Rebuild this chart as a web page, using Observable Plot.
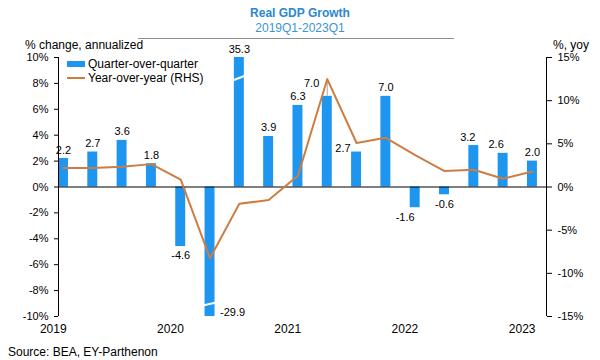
<!DOCTYPE html>
<html><head><meta charset="utf-8">
<script src="https://cdn.jsdelivr.net/npm/d3@7"></script>
<script src="https://cdn.jsdelivr.net/npm/@observablehq/plot@0.6"></script>
<style>
body{margin:0;background:#fff;font-family:"Liberation Sans",Arial,sans-serif;}
#wrap{position:relative;width:600px;height:360px;overflow:hidden;background:#fff;}
#chart{position:absolute;left:0;top:0;}
.t{position:absolute;white-space:nowrap;line-height:12px;font-size:12px;color:#000;}
</style></head><body><div id="wrap">
<div id="chart"></div>
<div class="t" style="left:0;width:600px;text-align:center;top:7px;font-weight:bold;color:#2c87cf">Real GDP Growth</div>
<div class="t" style="left:0;width:600px;text-align:center;top:22px;color:#3a94d6">2019Q1-2023Q1</div>
<div style="position:absolute;left:138px;top:38px;width:316px;height:1px;background:#8f8f8f"></div>
<div class="t" style="left:25px;top:39px">% change, annualized</div>
<div class="t" style="left:553px;top:39px">%, yoy</div>
<div style="position:absolute;left:67px;top:61px;width:18px;height:6px;background:#1e95ef"></div>
<div class="t" style="left:88px;top:58px">Quarter-over-quarter</div>
<div style="position:absolute;left:67px;top:77px;width:18px;height:2px;background:#cd7d41"></div>
<div class="t" style="left:88px;top:72px">Year-over-year (RHS)</div>
<div class="t" style="left:8px;top:346px">Source: BEA, EY-Parthenon</div>
</div>
<script>
// ---- data ----
const quarters = ["2019Q1","2019Q2","2019Q3","2019Q4","2020Q1","2020Q2","2020Q3","2020Q4",
  "2021Q1","2021Q2","2021Q3","2021Q4","2022Q1","2022Q2","2022Q3","2022Q4","2023Q1"];
const qoq = [2.2, 2.7, 3.6, 1.8, -4.6, -29.9, 35.3, 3.9, 6.3, 7.0, 2.7, 7.0, -1.6, -0.6, 3.2, 2.6, 2.0];
const yoy = [2.2, 2.2, 2.35, 2.65, 0.85, -8.25, -1.95, -1.5, 1.3, 12.5, 5.1, 5.7, 3.7, 1.85, 2.0, 0.95, 1.8];
const years = [2019, 2020, 2021, 2022, 2023];
const leftTicks = [-10, -8, -6, -4, -2, 0, 2, 4, 6, 8, 10];
const rightTicks = [-15, -10, -5, 0, 5, 10, 15];

// ---- build ----
const data = quarters.map((q, i) => ({q, i, qoq: qoq[i], yoy: yoy[i]}));
const R = 10 / 15; // right-axis to left-axis ratio
const xDom = [-0.17, 16.48];
const yearPos = years.map((y, k) => k * 4 - 0.35);
const blue = "#1e95ef", orange = "#cd7d41";
const fmt = d => d.qoq.toFixed(1);
const special = new Set([5, 9, 10, 12, 14, 15]);

const chart = Plot.plot({
  width: 600, height: 360,
  marginTop: 57, marginBottom: 44, marginLeft: 58, marginRight: 54,
  x: {type: "linear", domain: xDom},
  y: {domain: [-10, 10], clamp: true},
  style: {fontFamily: "'Liberation Sans', Arial, sans-serif", fontSize: "11px", color: "#000", background: "transparent"},
  marks: [
    Plot.rectY(data, {x1: d => d.i - 0.17, x2: d => d.i + 0.17, y1: 0, y2: "qoq", fill: blue}),
    Plot.link(data.filter(d => d.qoq > 10), {x1: d => d.i - 0.25, x2: d => d.i + 0.25, y1: 8.2, y2: 8.65, stroke: "#fff", strokeWidth: 2.2}),
    Plot.link(data.filter(d => d.qoq < -10), {x1: d => d.i - 0.25, x2: d => d.i + 0.25, y1: -9.15, y2: -8.9, stroke: "#fff", strokeWidth: 2.2}),
    Plot.ruleY([0], {stroke: "#000", strokeWidth: 1}),
    Plot.ruleX(xDom, {stroke: "#000", strokeWidth: 1}),
    Plot.ruleX(data.filter(d => d.i === 9), {x: "i", y1: "qoq", y2: d => d.yoy * R - 0.2, stroke: "#aaa", strokeWidth: 1}),
    Plot.line(data, {x: "i", y: d => d.yoy * R, stroke: orange, strokeWidth: 2}),
    // labels
    Plot.text(data.filter(d => d.qoq > 0 && !special.has(d.i)), {x: "i", y: "qoq", text: fmt, lineAnchor: "bottom", dy: -5}),
    Plot.text(data.filter(d => d.qoq < 0 && !special.has(d.i)), {x: "i", y: "qoq", text: fmt, lineAnchor: "top", dy: 5}),
    Plot.text(data.filter(d => d.i === 12), {x: "i", y: "qoq", text: fmt, lineAnchor: "top", dy: 5, dx: -10}),
    Plot.text(data.filter(d => d.i === 14), {x: "i", y: "qoq", text: fmt, lineAnchor: "bottom", dy: -5, dx: -6}),
    Plot.text(data.filter(d => d.i === 15), {x: "i", y: "qoq", text: fmt, lineAnchor: "bottom", dy: -5, dx: -7}),
    Plot.text(data.filter(d => d.i === 5), {x: "i", y: "qoq", text: fmt, textAnchor: "start", lineAnchor: "middle", dx: 10, dy: -4}),
    Plot.text(data.filter(d => d.i === 9), {x: "i", y: "qoq", text: fmt, textAnchor: "end", lineAnchor: "middle", dx: -8, dy: -13}),
    Plot.text(data.filter(d => d.i === 10), {x: "i", y: "qoq", text: fmt, textAnchor: "end", lineAnchor: "middle", dx: -6, dy: -4}),
    // axes
    Plot.axisY({ticks: leftTicks, tickFormat: d => d + "%", tickSize: 4, tickPadding: 6, label: null}),
    Plot.axisY({anchor: "right", ticks: rightTicks.map(v => v * R), tickFormat: v => Math.round(v / R) + "%", tickSize: 5, tickPadding: 6, label: null}),
    Plot.axisX({ticks: yearPos, tickFormat: v => String(years[Math.round((v + 0.35) / 4)]), tickSize: 0, tickPadding: 8, label: null, fontSize: 12})
  ]
});
document.getElementById("chart").appendChild(chart);
</script>
</body></html>
